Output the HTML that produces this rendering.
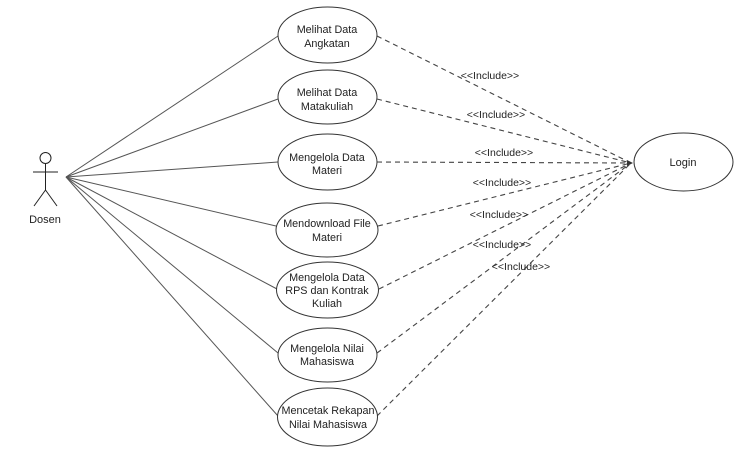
<!DOCTYPE html>
<html><head><meta charset="utf-8"><style>
html,body{margin:0;padding:0;background:#fff;}
svg{display:block;}
text{font-family:"Liberation Sans",Arial,sans-serif;fill:#222;}
</style></head><body>
<svg width="744" height="452" viewBox="0 0 744 452" xmlns="http://www.w3.org/2000/svg">
<!-- actor -->
<g stroke="#222" stroke-width="1" fill="none">
<circle cx="45.5" cy="158" r="5.5"/>
<line x1="45.5" y1="163.5" x2="45.5" y2="190"/>
<line x1="33" y1="172" x2="58" y2="172"/>
<line x1="45.5" y1="190" x2="34" y2="206"/>
<line x1="45.5" y1="190" x2="57" y2="206"/>
</g>
<text x="45" y="223" font-size="11" text-anchor="middle">Dosen</text>
<!-- actor lines -->
<g stroke="#555" stroke-width="1">
<line x1="66" y1="177" x2="278" y2="36"/>
<line x1="66" y1="177" x2="278" y2="99"/>
<line x1="66" y1="177" x2="278" y2="162"/>
<line x1="66" y1="177" x2="276" y2="226"/>
<line x1="66" y1="177" x2="277" y2="289"/>
<line x1="66" y1="177" x2="278" y2="353"/>
<line x1="66" y1="177" x2="278" y2="416"/>
</g>
<!-- dashed lines -->
<g stroke="#444" stroke-width="1.1" stroke-dasharray="5 4" fill="none">
<line x1="377" y1="36" x2="631" y2="163"/>
<line x1="377" y1="99" x2="631" y2="163"/>
<line x1="377" y1="162" x2="631" y2="163"/>
<line x1="378" y1="226" x2="631" y2="163"/>
<line x1="379" y1="289" x2="631" y2="163"/>
<line x1="377" y1="353" x2="631" y2="163"/>
<line x1="377" y1="416" x2="631" y2="163"/>
</g>
<path d="M627 160 L633 163 L627 166 Z" fill="#333"/>
<!-- ellipses -->
<g stroke="#333" stroke-width="1" fill="#fff">
<ellipse cx="327.5" cy="35" rx="49.5" ry="28"/>
<ellipse cx="327.5" cy="97" rx="49.5" ry="27"/>
<ellipse cx="327.5" cy="162" rx="49.5" ry="28"/>
<ellipse cx="327" cy="230" rx="51" ry="27"/>
<ellipse cx="327.5" cy="290" rx="51" ry="28"/>
<ellipse cx="327.5" cy="355" rx="49.5" ry="27"/>
<ellipse cx="327.5" cy="417" rx="50" ry="29"/>
<ellipse cx="683.5" cy="162" rx="49.5" ry="29"/>
</g>
<g font-size="10.8" text-anchor="middle">
<text x="327" y="33">Melihat Data</text>
<text x="327" y="47">Angkatan</text>
<text x="327" y="96">Melihat Data</text>
<text x="327" y="110">Matakuliah</text>
<text x="327" y="161">Mengelola Data</text>
<text x="327" y="174">Materi</text>
<text x="327" y="227">Mendownload File</text>
<text x="327" y="241">Materi</text>
<text x="327" y="281">Mengelola Data</text>
<text x="327" y="294">RPS dan Kontrak</text>
<text x="327" y="307">Kuliah</text>
<text x="327" y="352">Mengelola Nilai</text>
<text x="327" y="365">Mahasiswa</text>
<text x="328" y="414">Mencetak Rekapan</text>
<text x="328" y="428">Nilai Mahasiswa</text>
<text x="683" y="166" font-size="11">Login</text>
</g>
<g font-size="10.5" text-anchor="middle">
<text x="490" y="79">&lt;&lt;Include&gt;&gt;</text>
<text x="496" y="118">&lt;&lt;Include&gt;&gt;</text>
<text x="504" y="156">&lt;&lt;Include&gt;&gt;</text>
<text x="502" y="186">&lt;&lt;Include&gt;&gt;</text>
<text x="499" y="218">&lt;&lt;Include&gt;&gt;</text>
<text x="502" y="248">&lt;&lt;Include&gt;&gt;</text>
<text x="521" y="270">&lt;&lt;Include&gt;&gt;</text>
</g>
</svg>
</body></html>
